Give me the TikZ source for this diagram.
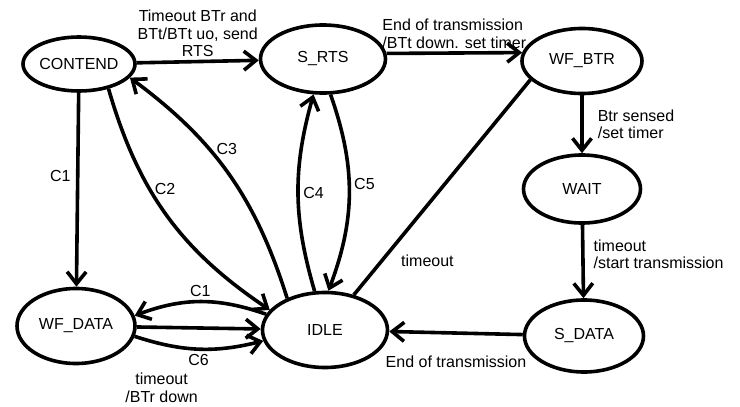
\documentclass[tikz,border=0pt]{standalone}
\usepackage{fontspec}
\setmainfont{Liberation Sans}
\usetikzlibrary{shapes.geometric, arrows.meta}

\begin{document}
\begin{tikzpicture}[x=1pt, y=-1pt, line width=3.6pt,
    >={Straight Barb[length=12pt, width=19pt]},
    font=\fontsize{16}{17.5}\selectfont,
    state/.style={ellipse, draw, inner sep=0pt},
    lbl/.style={align=left, inner sep=2pt}]
    \useasboundingbox (0,0) rectangle (740,407);
    % States
    \node[state, minimum width=112pt, minimum height=54pt] (contend) at (79,64) {CONTEND};
    \node[state, minimum width=125pt, minimum height=68pt] (srts) at (323,59) {S\_RTS};
    \node[state, minimum width=120pt, minimum height=65pt] (wfbtr) at (582,61) {WF\_BTR};
    \node[state, minimum width=117pt, minimum height=68pt] (wait) at (582,189) {WAIT};
    \node[state, minimum width=119pt, minimum height=72pt] (sdata) at (584,336) {S\_DATA};
    \node[state, minimum width=125pt, minimum height=75pt] (idle) at (325,330) {IDLE};
    \node[state, minimum width=118pt, minimum height=75pt] (wfdata) at (76,326) {WF\_DATA};
    % Top row
    \draw[->] (contend) -- (srts) node[midway, above=1pt, align=center, inner sep=2pt] {Timeout BTr and\\BTt/BTt uo, send\\RTS};
    \draw[->] (srts.5) -- (wfbtr.172) node[midway, above=1pt, lbl] {End of transmission\\/BTt down. set timer};
    % Right column
    \draw[->] (wfbtr) -- (wait) node[midway, right=12pt, lbl] {Btr sensed\\/set timer};
    \draw[->] (wait) -- (sdata) node[pos=0.4, right=7pt, lbl] {timeout\\/start transmission};
    \draw[->] (sdata) -- (idle) node[midway, below=19pt, inner sep=2pt] {End of transmission};
    \draw (wfbtr.200) -- (idle) node[pos=0.84, right=14pt] {timeout};
    % Around IDLE
    \draw[->] (contend) -- (wfdata) node[pos=0.43, left=2pt] {C1};
    \draw[->] (contend.-40) to[bend right=20] node[pos=0.38, right] {C2} (idle.160);
    \draw[->] (idle.140) to[bend right=18] node[pos=0.62, right=2pt] {C3} (contend.-15);
    \draw[->] (idle.105) to[bend left=16] node[midway, right] {C4} (srts.-105);
    \draw[->] (srts.-78) to[bend left=20] node[pos=0.45, right] {C5} (idle.85);
    \draw[->] (idle.165) to[bend right=20] node[midway, above] {C1} (wfdata.10);
    \draw[->] (wfdata) -- (idle) node[pos=0.2, below=42pt, align=center, inner sep=2pt] {timeout\\/BTr down};
    \draw[->] (wfdata.-10) to[bend right=16] node[midway, below] {C6} (idle.190);
\end{tikzpicture}
\end{document}
